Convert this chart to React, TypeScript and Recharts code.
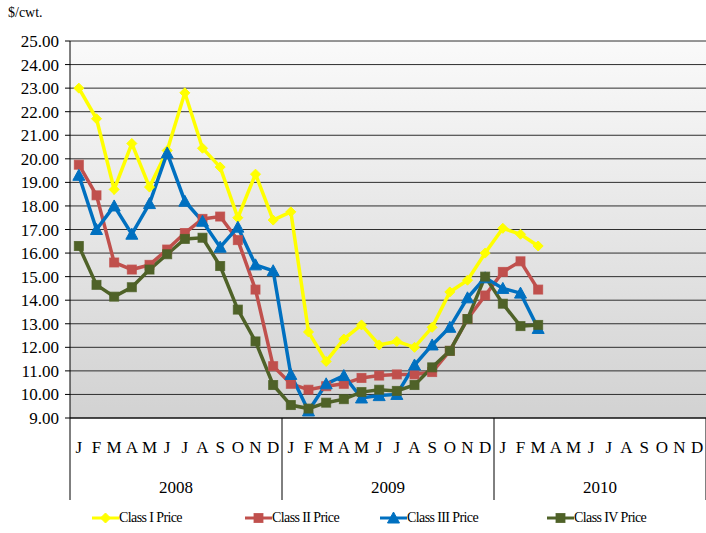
import React from 'react';
import { LineChart, Line, XAxis, YAxis, CartesianGrid, Legend } from 'recharts';

const monthLetters = ['J', 'F', 'M', 'A', 'M', 'J', 'J', 'A', 'S', 'O', 'N', 'D'];
const years = ['2008', '2009', '2010'];
const yTicks = [9, 10, 11, 12, 13, 14, 15, 16, 17, 18, 19, 20, 21, 22, 23, 24, 25];

// Jan 2008 .. Mar 2010, $/cwt.
const classI = [23.0, 21.7, 18.7, 20.65, 18.8, 20.35, 22.8, 20.45, 19.65, 17.5, 19.35, 17.4, 17.75, 12.65, 11.4, 12.35, 12.95, 12.1, 12.25, 12.0, 12.85, 14.35, 14.85, 16.0, 17.05, 16.8, 16.3];
const classII = [19.75, 18.45, 15.6, 15.3, 15.5, 16.15, 16.85, 17.45, 17.55, 16.55, 14.45, 11.2, 10.45, 10.2, 10.35, 10.45, 10.7, 10.8, 10.85, 10.85, 10.95, 11.85, 13.2, 14.2, 15.2, 15.65, 14.45];
const classIII = [19.3, 17.0, 18.0, 16.8, 18.1, 20.25, 18.2, 17.35, 16.25, 17.1, 15.5, 15.25, 10.85, 9.3, 10.45, 10.8, 9.85, 9.95, 10.0, 11.25, 12.1, 12.85, 14.1, 14.95, 14.5, 14.3, 12.8];
const classIV = [16.3, 14.65, 14.15, 14.55, 15.3, 15.95, 16.6, 16.65, 15.45, 13.6, 12.25, 10.4, 9.55, 9.4, 9.65, 9.8, 10.1, 10.2, 10.15, 10.4, 11.15, 11.85, 13.2, 15.0, 13.85, 12.9, 12.95];

const data = Array.from({ length: 36 }, (_, i) => ({
  i,
  c1: classI[i] ?? null,
  c2: classII[i] ?? null,
  c3: classIII[i] ?? null,
  c4: classIV[i] ?? null,
}));

const font = 'Liberation Serif, Times New Roman, serif';

const series = [
  { key: 'c1', name: 'Class I Price', color: '#FFFF00', marker: 'diamond', left: 92 },
  { key: 'c2', name: 'Class II Price', color: '#C0504D', marker: 'square', left: 245 },
  { key: 'c3', name: 'Class III Price', color: '#0070C0', marker: 'triangle', left: 380 },
  { key: 'c4', name: 'Class IV Price', color: '#4F6228', marker: 'square', left: 547 },
];

const Marker = ({ cx, cy, kind, color }: any) => {
  if (cx == null || cy == null || isNaN(cx) || isNaN(cy)) return null;
  if (kind === 'diamond') {
    return <polygon points={`${cx},${cy - 5} ${cx + 5},${cy} ${cx},${cy + 5} ${cx - 5},${cy}`} fill={color} stroke={color} />;
  }
  if (kind === 'triangle') {
    return <polygon points={`${cx},${cy - 6} ${cx + 6},${cy + 5} ${cx - 6},${cy + 5}`} fill={color} stroke={color} />;
  }
  return <rect x={cx - 4.5} y={cy - 4.5} width={9} height={9} fill={color} stroke={color} strokeOpacity={0.8} />;
};

const makeDot = (kind: string, color: string) => (props: any) => {
  if (props.value == null) return <g key={props.index} />;
  return <Marker key={props.index} cx={props.cx} cy={props.cy} kind={kind} color={color} />;
};

const SerifTick = ({ x, y, payload, format, anchor, dx = 0, dy }: any) => (
  <text x={x} y={y} dx={dx} dy={dy} textAnchor={anchor} fontFamily={font} fontSize={17} fill="#000">
    {format(payload.value)}
  </text>
);

const LegendContent = () => (
  <div style={{ position: 'relative', height: 34, fontFamily: font, fontSize: 14, color: '#000' }}>
    {series.map((s) => (
      <div key={s.key} style={{ position: 'absolute', left: s.left, top: 11, display: 'flex', alignItems: 'center', whiteSpace: 'nowrap' }}>
        <svg width={27} height={12}>
          <line x1={0} y1={6} x2={27} y2={6} stroke={s.color} strokeWidth={3} />
          <Marker cx={13.5} cy={6} kind={s.marker} color={s.color} />
        </svg>
        <span style={{ letterSpacing: -0.6 }}>{s.name}</span>
      </div>
    ))}
  </div>
);

export default function App() {
  return (
    <div style={{ position: 'absolute', left: 0, top: 0, width: 706, height: 533, background: '#fff' }}>
      <div style={{ position: 'absolute', left: 8, top: 5, fontFamily: font, fontSize: 14, color: '#000' }}>$/cwt.</div>
      <LineChart width={706} height={533} data={data} margin={{ top: 41, right: 0, left: 0, bottom: 0 }}>
        <defs>
          <linearGradient id="plotBg" x1="0" y1="0" x2="0" y2="1">
            <stop offset="0%" stopColor="#fafafa" />
            <stop offset="100%" stopColor="#d2d2d2" />
          </linearGradient>
        </defs>
        <CartesianGrid vertical={false} stroke="#2e2e2e" fill="url(#plotBg)" fillOpacity={1} />
        <XAxis
          xAxisId="a_sep"
          dataKey="i"
          type="number"
          domain={[-0.5, 35.5]}
          ticks={[-0.5, 11.5, 23.5, 35.5]}
          tickSize={82}
          height={1}
          tick={() => <g />}
          axisLine={{ stroke: '#000' }}
          tickLine={{ stroke: '#000' }}
        />
        <XAxis
          xAxisId="b_month"
          dataKey="i"
          type="number"
          domain={[-0.5, 35.5]}
          ticks={data.map((d) => d.i)}
          interval={0}
          height={45}
          axisLine={false}
          tickLine={false}
          tick={<SerifTick anchor="middle" dy={26} format={(v: number) => monthLetters[v % 12]} />}
        />
        <XAxis
          xAxisId="c_yr"
          dataKey="i"
          type="number"
          domain={[-0.5, 35.5]}
          ticks={[5.5, 17.5, 29.5]}
          height={35}
          axisLine={false}
          tickLine={false}
          tick={<SerifTick anchor="middle" dy={21} format={(v: number) => years[Math.floor(v / 12)]} />}
        />
        <YAxis
          width={70}
          domain={[9, 25]}
          ticks={yTicks}
          interval={0}
          tickSize={5}
          axisLine={{ stroke: '#000' }}
          tickLine={{ stroke: '#000' }}
          tick={<SerifTick anchor="end" dx={-4} dy={6} format={(v: number) => v.toFixed(2)} />}
        />
        <Legend verticalAlign="bottom" height={34} content={<LegendContent />} />
        {series.map((s) => (
          <Line
            key={s.key}
            xAxisId="b_month"
            dataKey={s.key}
            name={s.name}
            stroke={s.color}
            strokeWidth={3.5}
            type="linear"
            dot={makeDot(s.marker, s.color)}
            activeDot={false}
            isAnimationActive={false}
          />
        ))}
      </LineChart>
    </div>
  );
}
